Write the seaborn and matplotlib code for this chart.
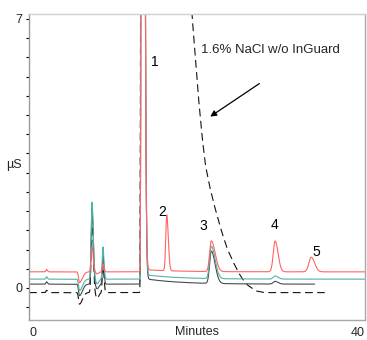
import numpy as np
import pandas as pd
import matplotlib
matplotlib.use("Agg")
import matplotlib.pyplot as plt
import seaborn as sns

# ---- chromatogram data (µS vs minutes) ----
trace_names = ["Sample", "Sample + InGuard", "Standard", "1.6% NaCl w/o InGuard"]
trace_colors = ["#ff6464", "#4fb3aa", "#4a4a4a", "#111111"]
baselines = [0.42, 0.23, 0.10, -0.12]
run_end = [40.0, 40.0, 34.0, 35.2]

# peak table: retention time, left sigma, right sigma (minutes)
peak_times = [2.1, 6.0, 7.5, 8.1, 8.8, 13.45, 16.4, 21.7, 29.3, 33.6]
peak_sig_left = [0.08, 0.10, 0.10, 0.15, 0.08, 0.07, 0.12, 0.20, 0.22, 0.28]
peak_sig_right = [0.10, 0.35, 0.15, 0.20, 0.12, 0.20, 0.18, 0.45, 0.35, 0.40]
# peak heights above each trace's baseline
heights_sample = [0.06, -0.28, 0.65, -0.05, 0.20, 60.0, 1.45, 0.80, 0.80, 0.38]
heights_inguard = [0.06, -0.30, 2.00, -0.12, 0.84, 60.0, 0.00, 0.84, 0.08, 0.00]
heights_standard = [0.06, -0.30, 2.00, -0.12, 0.75, 60.0, 0.00, 0.84, 0.07, 0.00]
heights_nacl = [0.06, -0.30, 1.90, -0.15, 0.70, 60.0, 0.00, 0.00, 0.00, 0.00]
# slow tail after the void peak: amplitude above baseline
tail_amp = [0.06, 0.12, 0.15, 0.0]

# salt matrix front of the unprotected injection (absolute µS)
matrix_t = [13.2, 13.45, 19.0, 19.4, 19.8, 20.2, 20.6, 21.0, 21.5, 22.0, 22.5,
            23.0, 23.6, 24.3, 25.0, 25.4, 26.0, 26.5, 27.1, 28.0]
matrix_v = [-0.12, 14.0, 8.5, 7.13, 6.0, 4.9, 3.95, 3.2, 2.65, 2.2, 1.8,
            1.42, 1.02, 0.68, 0.38, 0.24, 0.08, 0.0, -0.08, -0.12]

all_heights = [heights_sample, heights_inguard, heights_standard, heights_nacl]


def asym_peak(t, t0, h, sl, sr):
    s = np.where(t < t0, sl, sr)
    return h * np.exp(-0.5 * ((t - t0) / s) ** 2)


rows = []
for i, name in enumerate(trace_names):
    t = np.linspace(0, run_end[i], 6000)
    y = np.full_like(t, baselines[i])
    for t0, h, sl, sr in zip(peak_times, all_heights[i], peak_sig_left, peak_sig_right):
        y += asym_peak(t, t0, h, sl, sr)
    y += np.where(t > 13.6, tail_amp[i] * np.exp(-(t - 13.6) / 4.0), 0.0)
    if i == 3:
        excess = np.array(matrix_v) - baselines[i]
        y += np.interp(t, matrix_t, excess, left=0.0, right=0.0)
    rows.append(pd.DataFrame({"Minutes": t, "uS": y, "trace": name}))
df = pd.concat(rows, ignore_index=True)

# ---- figure ----
sns.set_theme(style="white")
plt.rcParams["font.family"] = ["Liberation Sans", "DejaVu Sans"]

fig = plt.figure(figsize=(3.67, 3.40), dpi=100)
ax = fig.add_axes([29 / 367, 1 - 320 / 340, 336 / 367, 306 / 340])

draw_order = [3, 2, 1, 0]
for i in draw_order:
    sub = df[df["trace"] == trace_names[i]]
    sns.lineplot(data=sub, x="Minutes", y="uS", ax=ax, color=trace_colors[i],
                 linewidth=0.8, estimator=None, sort=False, legend=False)
    if i == 3:
        ax.lines[-1].set_dashes((7, 4))

ax.set_xlim(0, 40)
ax.set_ylim(-0.833, 7.13)

# axes frame
ax.spines["left"].set_color("#9a9a9a")
ax.spines["bottom"].set_color("#a8a8a8")
ax.spines["right"].set_color("#a8a8a8")
ax.spines["top"].set_color("#d0d0d0")
for sp in ax.spines.values():
    sp.set_linewidth(1.0)

# y ticks: labels at 0 and 7, marks every 0.5
ax.set_yticks([0, 7])
ax.set_yticklabels(["0", "7"], fontsize=9)
ax.set_yticks(np.arange(-0.5, 7.01, 0.5), minor=True)
ax.tick_params(axis="y", which="both", direction="out", length=2.5, width=0.8,
               color="black", left=True, pad=2)

# x ticks: end labels only
ax.set_xticks([0, 40])
ax.set_xticklabels(["0", "40"], fontsize=9)
ax.tick_params(axis="x", which="both", length=0, pad=5, bottom=True)
xl = ax.get_xticklabels()
xl[0].set_ha("left")
xl[1].set_ha("right")

ax.set_xlabel("Minutes", fontsize=9)
ax.xaxis.set_label_coords(0.5, -0.04)
ax.xaxis.label.set_va("center")
ax.set_ylabel("µS", fontsize=9, rotation=0, ha="right", va="center")
ax.yaxis.set_label_coords(-0.021, 0.506)

# peak numbers
peak_labels = ["1", "2", "3", "4", "5"]
label_x = [15.0, 15.8, 20.7, 29.2, 34.2]
label_y = [5.88, 1.98, 1.61, 1.64, 0.94]
for s, lx, ly in zip(peak_labels, label_x, label_y):
    ax.text(lx, ly, s, fontsize=10, ha="center", va="center", color="black")

ax.text(20.5, 6.19, "1.6% NaCl w/o InGuard", fontsize=9.5, ha="left", va="center")
ax.annotate("", xy=(21.3, 4.42), xytext=(27.7, 5.36),
            arrowprops=dict(arrowstyle="-|>", color="black", lw=0.9,
                            mutation_scale=9))

fig.savefig("out.png", dpi=100)
